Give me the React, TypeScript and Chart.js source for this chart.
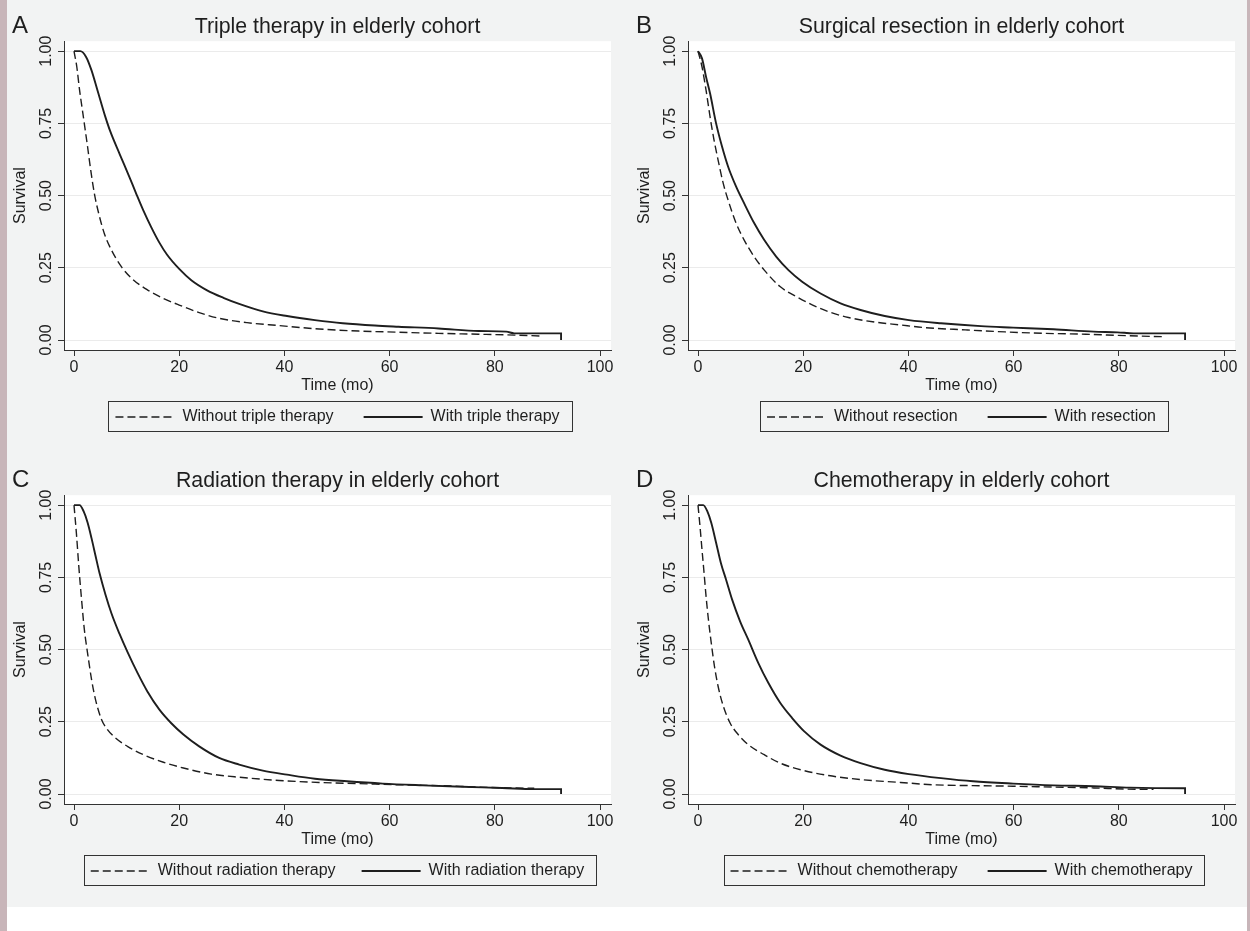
import React, { useEffect, useRef } from "react";
import { Chart, registerables } from "chart.js";

Chart.register(...registerables);

const FONT = '"Liberation Sans", Arial, Helvetica, sans-serif';
const INK = "#1e1e1e";
const AXIS = "#333333";

Chart.defaults.font.family = FONT;
Chart.defaults.color = INK;

// ---------- shared axis data ----------
const xTickValues = [0, 20, 40, 60, 80, 100];
const xTickLabels = ["0", "20", "40", "60", "80", "100"];
const yTickValues = [0, 0.25, 0.5, 0.75, 1];
const yTickLabels = ["0.00", "0.25", "0.50", "0.75", "1.00"];
const xAxisTitle = "Time (mo)";
const yAxisTitle = "Survival";

// ---------- Panel A ----------
const aLetter = "A";
const aTitle = "Triple therapy in elderly cohort";
const aLabels = ["Without triple therapy", "With triple therapy"];
const aWithoutTime = [0, 0.53, 1.06, 1.6, 2.05, 2.58, 3.18, 3.87, 4.7, 5.76, 7.13, 9.0, 11.3, 14.0, 17.0, 20.0, 23.8, 27.6, 32.9, 39.0, 46.6, 54.1, 61.7, 69.3, 76.9, 83.7, 88.6];
const aWithoutSurv = [1.0, 0.946, 0.865, 0.796, 0.738, 0.669, 0.588, 0.507, 0.438, 0.369, 0.311, 0.254, 0.208, 0.173, 0.144, 0.121, 0.095, 0.075, 0.06, 0.05, 0.038, 0.031, 0.027, 0.023, 0.02, 0.017, 0.014];
const aWithTime = [0, 1.2, 2.3, 3.3, 4.5, 5.9, 6.9, 8.7, 10.4, 11.8, 13.2, 14.7, 16.2, 17.7, 20.0, 22.3, 25.3, 28.4, 31.4, 35.9, 40.5, 45.8, 51.1, 57.2, 61.7, 69.3, 76.9, 82.2, 83.7, 92.6, 92.6];
const aWithSurv = [1.0, 1.0, 0.98, 0.935, 0.862, 0.776, 0.722, 0.643, 0.57, 0.508, 0.448, 0.39, 0.338, 0.295, 0.246, 0.207, 0.172, 0.146, 0.125, 0.099, 0.083, 0.069, 0.058, 0.05, 0.046, 0.04, 0.031, 0.029, 0.023, 0.023, 0];

// ---------- Panel B ----------
const bLetter = "B";
const bTitle = "Surgical resection in elderly cohort";
const bLabels = ["Without resection", "With resection"];
const bWithoutTime = [0, 0.76, 1.53, 2.29, 3.05, 3.82, 4.8, 5.73, 7.25, 8.78, 10.7, 12.6, 15.6, 18.7, 21.8, 24.8, 28.6, 33.2, 38.5, 43.1, 50.8, 58.4, 66.0, 73.7, 81.3, 88.5];
const bWithoutSurv = [1.0, 0.946, 0.865, 0.773, 0.692, 0.623, 0.542, 0.484, 0.404, 0.346, 0.288, 0.242, 0.185, 0.15, 0.121, 0.098, 0.078, 0.063, 0.052, 0.043, 0.035, 0.028, 0.023, 0.02, 0.015, 0.0115];
const bWithTime = [0, 0.76, 1.53, 2.29, 3.44, 4.58, 5.73, 7.25, 8.78, 10.7, 12.6, 14.9, 17.2, 19.8, 23.3, 27.1, 30.9, 35.5, 40.1, 46.2, 53.8, 59.9, 67.6, 75.2, 79.8, 82.8, 92.6, 92.6];
const bWithSurv = [1.0, 0.975, 0.911, 0.854, 0.75, 0.669, 0.6, 0.531, 0.473, 0.404, 0.346, 0.288, 0.242, 0.202, 0.161, 0.127, 0.104, 0.083, 0.069, 0.058, 0.048, 0.043, 0.037, 0.029, 0.0265, 0.023, 0.023, 0];

// ---------- Panel C ----------
const cLetter = "C";
const cTitle = "Radiation therapy in elderly cohort";
const cLabels = ["Without radiation therapy", "With radiation therapy"];
const cWithoutTime = [0, 0.45, 0.91, 1.44, 1.97, 2.58, 3.34, 4.09, 5.23, 6.37, 7.88, 10.16, 13.2, 17.0, 20.8, 26.1, 31.4, 39.0, 46.6, 54.1, 61.7, 69.3, 76.9, 82.9, 87.5];
const cWithoutSurv = [1.0, 0.904, 0.789, 0.673, 0.569, 0.488, 0.396, 0.327, 0.258, 0.223, 0.194, 0.165, 0.136, 0.11, 0.09, 0.069, 0.058, 0.047, 0.04, 0.036, 0.032, 0.029, 0.024, 0.021, 0.02];
const cWithTime = [0, 1.06, 1.82, 2.58, 3.34, 4.09, 4.85, 5.99, 7.13, 8.64, 10.16, 12.05, 13.95, 16.2, 18.5, 20.8, 23.8, 27.6, 31.4, 35.9, 40.5, 45.8, 51.9, 58.7, 66.3, 73.8, 81.4, 87.5, 92.6, 92.6];
const cWithSurv = [1.0, 1.0, 0.979, 0.94, 0.885, 0.825, 0.765, 0.69, 0.625, 0.555, 0.492, 0.42, 0.355, 0.293, 0.245, 0.206, 0.165, 0.125, 0.102, 0.081, 0.067, 0.053, 0.044, 0.036, 0.03, 0.025, 0.021, 0.017, 0.017, 0];

// ---------- Panel D ----------
const dLetter = "D";
const dTitle = "Chemotherapy in elderly cohort";
const dLabels = ["Without chemotherapy", "With chemotherapy"];
const dWithoutTime = [0, 0.38, 0.76, 1.15, 1.53, 1.98, 2.52, 3.13, 3.82, 4.81, 6.1, 7.63, 9.54, 12.6, 15.6, 19.5, 24.8, 30.9, 38.5, 44.7, 52.3, 59.9, 67.6, 75.2, 81.3, 86.6];
const dWithoutSurv = [1.0, 0.927, 0.846, 0.766, 0.685, 0.604, 0.523, 0.442, 0.373, 0.304, 0.246, 0.206, 0.171, 0.136, 0.107, 0.084, 0.064, 0.05, 0.04, 0.032, 0.029, 0.027, 0.024, 0.021, 0.017, 0.016];
const dWithTime = [0, 1.0, 1.76, 2.52, 3.44, 4.35, 5.34, 6.49, 8.0, 9.54, 11.45, 13.36, 15.65, 17.9, 20.2, 23.3, 27.1, 30.9, 35.5, 40.1, 46.2, 52.3, 59.9, 67.6, 75.2, 82.1, 92.6, 92.6];
const dWithSurv = [1.0, 1.0, 0.979, 0.939, 0.87, 0.8, 0.742, 0.673, 0.598, 0.535, 0.454, 0.385, 0.315, 0.263, 0.217, 0.171, 0.133, 0.107, 0.084, 0.069, 0.055, 0.044, 0.036, 0.03, 0.027, 0.022, 0.02, 0];

// ---------- layout (pixels) ----------
const CANVAS_W = 617;
const CANVAS_H = 454;
const Y_AXIS_W = 57;
const PX_PER_MONTH = 5.26;
const PX_PER_UNIT = 289;

type PanelCfg = {
  letter: string;
  title: string;
  labels: string[];
  withoutTime: number[];
  withoutSurv: number[];
  withTime: number[];
  withSurv: number[];
  left: number;
  top: number;
  legendGap: number;
};

const panels: PanelCfg[] = [
  { letter: aLetter, title: aTitle, labels: aLabels, withoutTime: aWithoutTime, withoutSurv: aWithoutSurv, withTime: aWithTime, withSurv: aWithSurv, left: 7, top: 0, legendGap: 30 },
  { letter: bLetter, title: bTitle, labels: bLabels, withoutTime: bWithoutTime, withoutSurv: bWithoutSurv, withTime: bWithTime, withSurv: bWithSurv, left: 631, top: 0, legendGap: 30 },
  { letter: cLetter, title: cTitle, labels: cLabels, withoutTime: cWithoutTime, withoutSurv: cWithoutSurv, withTime: cWithTime, withSurv: cWithSurv, left: 7, top: 454, legendGap: 26 },
  { letter: dLetter, title: dTitle, labels: dLabels, withoutTime: dWithoutTime, withoutSurv: dWithoutSurv, withTime: dWithTime, withSurv: dWithSurv, left: 631, top: 454, legendGap: 30 },
];

const plotBackground = {
  id: "plotBackground",
  beforeDraw(chart: any) {
    const { ctx, chartArea: a } = chart;
    ctx.save();
    ctx.fillStyle = "#ffffff";
    ctx.fillRect(a.left, a.top, a.right - a.left, a.bottom - a.top);
    ctx.restore();
  },
};

const panelLetter = {
  id: "panelLetter",
  afterDraw(chart: any, _args: any, opts: any) {
    const { ctx } = chart;
    ctx.save();
    ctx.font = `24px ${FONT}`;
    ctx.fillStyle = INK;
    ctx.textBaseline = "alphabetic";
    ctx.textAlign = "left";
    ctx.fillText(opts.text || "", 5, 33);
    ctx.restore();
  },
};

const legendFrame = {
  id: "legendFrame",
  afterDraw(chart: any) {
    const lg = chart.legend;
    if (!lg || !lg.legendHitBoxes || !lg.legendHitBoxes.length) return;
    const hb = lg.legendHitBoxes;
    const first = hb[0];
    const last = hb[hb.length - 1];
    const l = Math.round(first.left - 7) + 0.5;
    const r = Math.round(last.left + last.width + 12) + 0.5;
    const cy = first.top + first.height / 2;
    const t = Math.round(cy - 16) + 0.5;
    const b = Math.round(cy + 14) + 0.5;
    const { ctx } = chart;
    ctx.save();
    ctx.strokeStyle = AXIS;
    ctx.lineWidth = 1;
    ctx.setLineDash([]);
    ctx.strokeRect(l, t, r - l, b - t);
    ctx.restore();
  },
};

function Panel({ cfg }: { cfg: PanelCfg }) {
  const ref = useRef<HTMLCanvasElement | null>(null);
  useEffect(() => {
    if (!ref.current) return;
    const tickFont = { size: 16, family: FONT };
    const gap = cfg.legendGap;
    const xAxisH = 59 - gap;
    const chart = new Chart(ref.current, {
      type: "line",
      data: {
        datasets: [
          {
            label: cfg.labels[0],
            data: cfg.withoutTime.map((t, i) => ({ x: t, y: cfg.withoutSurv[i] })),
            borderColor: INK,
            backgroundColor: INK,
            borderWidth: 1.4,
            borderDash: [8, 4],
            pointRadius: 0,
            cubicInterpolationMode: "monotone",
            fill: false,
          },
          {
            label: cfg.labels[1],
            data: cfg.withTime.map((t, i) => ({ x: t, y: cfg.withSurv[i] })),
            borderColor: INK,
            backgroundColor: INK,
            borderWidth: 1.9,
            pointRadius: 0,
            cubicInterpolationMode: "monotone",
            fill: false,
          },
        ],
      },
      options: {
        responsive: false,
        animation: false,
        events: [],
        layout: { padding: { top: 0, left: 0, right: 13, bottom: 19 } },
        scales: {
          x: {
            type: "linear",
            min: -10 / PX_PER_MONTH,
            max: 100 + 11 / PX_PER_MONTH,
            afterBuildTicks: (s: any) => {
              s.ticks = xTickValues.map((v) => ({ value: v }));
            },
            afterFit: (s: any) => {
              s.height = xAxisH;
            },
            ticks: {
              autoSkip: false,
              maxRotation: 0,
              padding: 2,
              font: tickFont,
              color: INK,
              callback: (_v: any, i: number) => xTickLabels[i],
            },
            grid: { drawOnChartArea: false, tickColor: AXIS, tickLength: 6, tickWidth: 1 },
            border: { display: true, color: AXIS, width: 1 },
            title: {
              display: true,
              text: xAxisTitle,
              font: tickFont,
              color: INK,
              padding: { top: 0, bottom: 14.2 - gap },
            },
          },
          y: {
            type: "linear",
            min: -10 / PX_PER_UNIT,
            max: 1 + 10 / PX_PER_UNIT,
            afterBuildTicks: (s: any) => {
              s.ticks = yTickValues.map((v) => ({ value: v }));
            },
            afterFit: (s: any) => {
              s.width = Y_AXIS_W;
            },
            ticks: {
              autoSkip: false,
              minRotation: 90,
              maxRotation: 90,
              crossAlign: "center",
              padding: -4,
              font: tickFont,
              color: INK,
              callback: (_v: any, i: number) => yTickLabels[i],
            },
            grid: { color: "#ebebeb", lineWidth: 1, tickColor: AXIS, tickLength: 6, tickWidth: 1 },
            border: { display: true, color: AXIS, width: 1 },
            title: {
              display: true,
              text: yAxisTitle,
              font: tickFont,
              color: INK,
              padding: { top: 4, bottom: 0 },
            },
          },
        },
        plugins: {
          tooltip: { enabled: false },
          title: {
            display: true,
            text: cfg.title,
            fullSize: false,
            color: INK,
            font: { size: 21.3, family: FONT, weight: "normal" },
            padding: { top: 14.3, bottom: 1.3 },
          },
          legend: {
            display: true,
            position: "bottom",
            fullSize: false,
            labels: {
              usePointStyle: true,
              pointStyle: "line",
              pointStyleWidth: 59,
              padding: gap,
              color: INK,
              font: tickFont,
              generateLabels: (ch: any) =>
                ch.data.datasets.map((ds: any, i: number) => ({
                  text: ds.label,
                  fillStyle: ds.borderColor,
                  strokeStyle: ds.borderColor,
                  lineWidth: ds.borderWidth,
                  lineDash: ds.borderDash || [],
                  pointStyle: "line",
                  hidden: false,
                  datasetIndex: i,
                  fontColor: INK,
                })),
            },
          },
          panelLetter: { text: cfg.letter },
        } as any,
      },
      plugins: [plotBackground, panelLetter, legendFrame],
    } as any);
    return () => chart.destroy();
  }, [cfg]);
  return (
    <canvas
      ref={ref}
      width={CANVAS_W}
      height={CANVAS_H}
      style={{ position: "absolute", left: cfg.left, top: cfg.top, width: CANVAS_W, height: CANVAS_H, display: "block" }}
    />
  );
}

export default function App() {
  return (
    <div style={{ position: "absolute", left: 0, top: 0, width: 1250, height: 931, background: "#ffffff", overflow: "hidden" }}>
      <div style={{ position: "absolute", left: 7, top: 0, width: 1240, height: 907, background: "#f2f3f3" }} />
      <div style={{ position: "absolute", left: 0, top: 0, width: 7, height: 931, background: "#c8b5b9" }} />
      <div style={{ position: "absolute", left: 1247, top: 0, width: 3, height: 931, background: "#c8b5b9" }} />
      {panels.map((p) => (
        <Panel key={p.letter} cfg={p} />
      ))}
    </div>
  );
}
